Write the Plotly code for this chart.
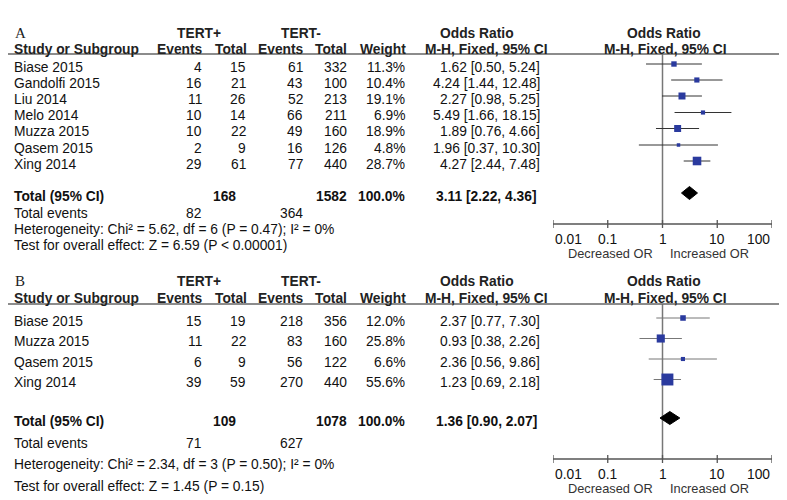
import math
import plotly.graph_objects as go

# ---- Panel A data ----
studies_a = ["Biase 2015", "Gandolfi 2015", "Liu 2014", "Melo 2014", "Muzza 2015", "Qasem 2015", "Xing 2014"]
ev_pos_a = [4, 16, 11, 10, 10, 2, 29]
tot_pos_a = [15, 21, 26, 14, 22, 9, 61]
ev_neg_a = [61, 43, 52, 66, 49, 16, 77]
tot_neg_a = [332, 100, 213, 211, 160, 126, 440]
weight_a = [11.3, 10.4, 19.1, 6.9, 18.9, 4.8, 28.7]
or_a = [1.62, 4.24, 2.27, 5.49, 1.89, 1.96, 4.27]
lo_a = [0.50, 1.44, 0.98, 1.66, 0.76, 0.37, 2.44]
hi_a = [5.24, 12.48, 5.25, 18.15, 4.66, 10.30, 7.48]
total_a = dict(n_pos=168, n_neg=1582, ev_pos=82, ev_neg=364, est=3.11, lo=2.22, hi=4.36,
               het="Heterogeneity: Chi² = 5.62, df = 6 (P = 0.47); I² = 0%",
               test="Test for overall effect: Z = 6.59 (P < 0.00001)")

# ---- Panel B data ----
studies_b = ["Biase 2015", "Muzza 2015", "Qasem 2015", "Xing 2014"]
ev_pos_b = [15, 11, 6, 39]
tot_pos_b = [19, 22, 9, 59]
ev_neg_b = [218, 83, 56, 270]
tot_neg_b = [356, 160, 122, 440]
weight_b = [12.0, 25.8, 6.6, 55.6]
or_b = [2.37, 0.93, 2.36, 1.23]
lo_b = [0.77, 0.38, 0.56, 0.69]
hi_b = [7.30, 2.26, 9.86, 2.18]
total_b = dict(n_pos=109, n_neg=1078, ev_pos=71, ev_neg=627, est=1.36, lo=0.90, hi=2.07,
               het="Heterogeneity: Chi² = 2.34, df = 3 (P = 0.50); I² = 0%",
               test="Test for overall effect: Z = 1.45 (P = 0.15)")

tick_vals = [0.01, 0.1, 1, 10, 100]
tick_text = ["0.01", "0.1", "1", "10", "100"]

W, H = 787, 500
OFF = 8  # page body margin of the html
FW, FH = W - OFF, H - OFF
FONT = "Liberation Sans, Arial, sans-serif"
FS = 13.8
fig = go.Figure()
annotations = []
shapes = []


def txt(x, y, s, anchor="left", bold=False, size=FS, color="#111", font=FONT):
    # table text: x in page pixels, y in the shared pixel-like y axis
    if bold:
        s = "<b>" + s + "</b>"
    annotations.append(dict(x=(x - OFF) / FW, y=y, xref="paper", yref="y", text=s,
                            showarrow=False, xanchor=anchor, yanchor="middle",
                            font=dict(family=font, size=size, color=color)))


def panel(label, top, rows, studies, evp, totp, evn, totn, w, orr, lo, hi, tot,
          tot_y, ev_y, het_y, test_y, axis_y, ci_color):
    h1, h2, line_y = top
    # headers
    txt(13, h1, label, font="Liberation Serif, Times New Roman, serif", size=15, color="#222")
    txt(199, h1, "TERT+", "center", True, color="#222")
    txt(301, h1, "TERT-", "center", True, color="#222")
    txt(477, h1, "Odds Ratio", "center", True, color="#222")
    txt(664, h1, "Odds Ratio", "center", True, color="#222")
    txt(12, h2, "Study or Subgroup", bold=True, color="#222")
    txt(205, h2, "Events", "right", True, color="#222")
    txt(249, h2, "Total", "right", True, color="#222")
    txt(306, h2, "Events", "right", True, color="#222")
    txt(349, h2, "Total", "right", True, color="#222")
    txt(408, h2, "Weight", "right", True, color="#222")
    txt(487, h2, "M-H, Fixed, 95% CI", "center", True, color="#222")
    txt(665, h2, "M-H, Fixed, 95% CI", "center", True, color="#222")
    shapes.append(dict(type="line", xref="paper", yref="y", x0=0, x1=1, y0=line_y, y1=line_y,
                       line=dict(color="#666", width=1.5)))
    # study rows
    for i, s in enumerate(studies):
        ty = rows[i] + 3
        txt(12, ty, s)
        txt(204, ty, str(evp[i]), "right")
        txt(248, ty, str(totp[i]), "right")
        txt(305, ty, str(evn[i]), "right")
        txt(349, ty, str(totn[i]), "right")
        txt(407, ty, f"{w[i]:.1f}%", "right")
        txt(542, ty, f"{orr[i]:.2f} [{lo[i]:.2f}, {hi[i]:.2f}]", "right")
    # totals
    txt(12, tot_y + 3, "Total (95% CI)", bold=True)
    txt(238, tot_y + 3, str(tot["n_pos"]), "right", True)
    txt(349, tot_y + 3, str(tot["n_neg"]), "right", True)
    txt(407, tot_y + 3, "100.0%", "right", True)
    txt(539, tot_y + 3, f"{tot['est']:.2f} [{tot['lo']:.2f}, {tot['hi']:.2f}]", "right", True)
    txt(12, ev_y, "Total events")
    txt(203, ev_y, str(tot["ev_pos"]), "right")
    txt(305, ev_y, str(tot["ev_neg"]), "right")
    txt(12, het_y, tot["het"])
    txt(12, test_y, tot["test"])

    # forest: null line
    fig.add_trace(go.Scatter(x=[1, 1], y=[line_y, axis_y], mode="lines",
                             line=dict(color="#777", width=1.5), hoverinfo="skip"))
    # CI lines
    xs, ys = [], []
    for i in range(len(orr)):
        xs += [lo[i], hi[i], None]
        ys += [rows[i], rows[i], None]
    fig.add_trace(go.Scatter(x=xs, y=ys, mode="lines", line=dict(color=ci_color, width=1),
                             hoverinfo="skip"))
    # squares
    fig.add_trace(go.Scatter(x=orr, y=rows, mode="markers",
                             marker=dict(symbol="square", color="#2A3A9E", opacity=1,
                                         size=[1.6 * v ** 0.5 for v in w], line=dict(width=0))))
    # diamond
    dh = 6.5
    fig.add_trace(go.Scatter(x=[tot["lo"], tot["est"], tot["hi"], tot["est"], tot["lo"]],
                             y=[tot_y, tot_y - dh, tot_y, tot_y + dh, tot_y],
                             mode="lines", fill="toself", fillcolor="black",
                             line=dict(color="black", width=1), hoverinfo="skip"))
    # axis line and ticks
    fig.add_trace(go.Scatter(x=[tick_vals[0], tick_vals[-1]], y=[axis_y, axis_y], mode="lines",
                             line=dict(color="#555", width=1.3), hoverinfo="skip"))
    tx, ty = [], []
    for t in tick_vals:
        tx += [t, t, None]
        ty += [axis_y - 4, axis_y + 4, None]
    fig.add_trace(go.Scatter(x=tx, y=ty, mode="lines", line=dict(color="#555", width=1.3),
                             hoverinfo="skip"))
    for j, (t, lab) in enumerate(zip(tick_vals, tick_text)):
        anc = "left" if j == 0 else ("right" if j == len(tick_vals) - 1 else "center")
        annotations.append(dict(x=math.log10(t), y=axis_y + 15, xref="x", yref="y", text=lab,
                                showarrow=False, xanchor=anc, yanchor="middle",
                                font=dict(family=FONT, size=FS, color="#111")))
    annotations.append(dict(x=0, y=axis_y + 29, xref="x", yref="y", text="Decreased OR",
                            showarrow=False, xanchor="right", xshift=-8, yanchor="middle",
                            font=dict(family=FONT, size=12.8, color="#333")))
    annotations.append(dict(x=0, y=axis_y + 29, xref="x", yref="y", text="Increased OR",
                            showarrow=False, xanchor="left", xshift=5, yanchor="middle",
                            font=dict(family=FONT, size=12.8, color="#333")))


panel("A", (33, 49, 54), [64, 80, 96, 112.5, 128.5, 145, 161], studies_a, ev_pos_a, tot_pos_a,
      ev_neg_a, tot_neg_a, weight_a, or_a, lo_a, hi_a, total_a,
      tot_y=193, ev_y=213, het_y=229, test_y=245, axis_y=224, ci_color="#333")
panel("B", (281, 298, 304), [318, 338.5, 359, 379.5], studies_b, ev_pos_b, tot_pos_b,
      ev_neg_b, tot_neg_b, weight_b, or_b, lo_b, hi_b, total_b,
      tot_y=418, ev_y=443, het_y=464, test_y=486, axis_y=459, ci_color="#777")

fig.update_layout(
    width=FW, height=FH,
    margin=dict(l=0, r=0, t=0, b=0),
    paper_bgcolor="white", plot_bgcolor="rgba(0,0,0,0)",
    showlegend=False,
    xaxis=dict(type="log", range=[-2, 2],
               domain=[(553 - OFF) / FW, (772 - OFF) / FW], visible=False),
    yaxis=dict(range=[H, OFF], domain=[0, 1], visible=False),
    annotations=annotations,
    shapes=shapes,
)

fig.write_html("out.html")
